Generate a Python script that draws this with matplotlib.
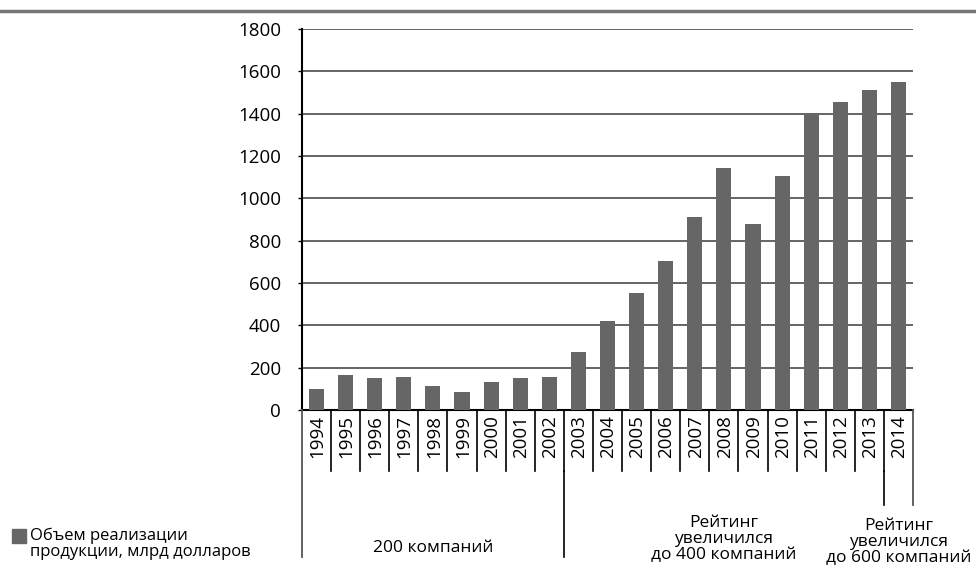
import matplotlib.pyplot as plt
from matplotlib.patches import Rectangle
from matplotlib.lines import Line2D
import matplotlib.transforms as mtransforms

plt.rcParams['font.family'] = ['Open Sans', 'DejaVu Sans']

# Sales volume, bn dollars
years = ['1994', '1995', '1996', '1997', '1998', '1999', '2000', '2001', '2002',
         '2003', '2004', '2005', '2006', '2007', '2008', '2009', '2010',
         '2011', '2012', '2013', '2014']
sales = [99, 163, 150, 158, 115, 86, 131, 150, 158,
         276, 420, 553, 706, 912, 1142, 879, 1105,
         1403, 1453, 1510, 1549]

# rating groups: label, first index, last index
group_labels = ['200 компаний',
                'Рейтинг\nувеличился\nдо 400 компаний',
                'Рейтинг\nувеличился\nдо 600 компаний']
group_start = [0, 9, 20]
group_end = [8, 19, 20]

legend_label = 'Объем реализации\nпродукции, млрд долларов'

W, H = 976, 569
fig = plt.figure(figsize=(W / 100, H / 100), dpi=100)
ax = fig.add_axes([302 / W, 1 - 410 / H, (913 - 302) / W, (410 - 29) / H])

bar_color = '#666666'
x = range(len(years))
ax.bar(x, sales, width=0.52, color=bar_color, zorder=3)

ax.set_xlim(-0.5, len(years) - 0.5)
ax.set_ylim(0, 1800)
ax.set_yticks(range(0, 1801, 200))
ax.yaxis.grid(True, color='#4a4a4a', linewidth=1.2, zorder=0)
ax.tick_params(axis='y', length=3, width=1, pad=12, labelsize=13.5)
ax.set_xticks([])
for side in ['top', 'right']:
    ax.spines[side].set_visible(False)
ax.spines['left'].set_linewidth(1.5)
ax.spines['bottom'].set_linewidth(1.5)

# category table below the axis
trans = mtransforms.blended_transform_factory(ax.transData, fig.transFigure)
y0 = 1 - 410 / H
y_years = 1 - 471 / H
for i, yr in enumerate(years):
    ax.text(i + 0.03, 1 - 415 / H, yr, transform=trans, rotation=90,
            ha='center', va='top', fontsize=13.5)
for i in range(1, len(years)):
    fig.add_artist(Line2D([i - 0.5, i - 0.5], [y0, y_years], transform=trans,
                          color='black', linewidth=1.2))

# group boundaries
deep = 1 - 557 / H
short = 1 - 505 / H
fig.add_artist(Line2D([-0.5, -0.5], [y0, deep], transform=trans,
                      color='#555555', linewidth=1.3))
fig.add_artist(Line2D([8.5, 8.5], [y_years, deep], transform=trans,
                      color='black', linewidth=1.2))
fig.add_artist(Line2D([19.5, 19.5], [y_years, short], transform=trans,
                      color='black', linewidth=1.2))
fig.add_artist(Line2D([20.5, 20.5], [y0, short], transform=trans,
                      color='#555555', linewidth=1.3))

group_y = [548, 539, 542]
for label, s, e, gy in zip(group_labels, group_start, group_end, group_y):
    ax.text((s + e) / 2, 1 - gy / H, label, transform=trans, ha='center',
            va='center', fontsize=12.5, linespacing=1.02)

# legend
fig.add_artist(Rectangle((12 / W, 1 - 543 / H), 14 / W, 14 / H,
                         transform=fig.transFigure, color=bar_color))
fig.text(30 / W, 1 - 543.5 / H, legend_label, ha='left', va='center',
         fontsize=12, linespacing=1.02)

# page rule at the top
fig.add_artist(Line2D([0, 1], [1 - 11 / H, 1 - 11 / H], transform=fig.transFigure,
                      color='#777777', linewidth=2.5))

fig.savefig('out.png', dpi=100)
